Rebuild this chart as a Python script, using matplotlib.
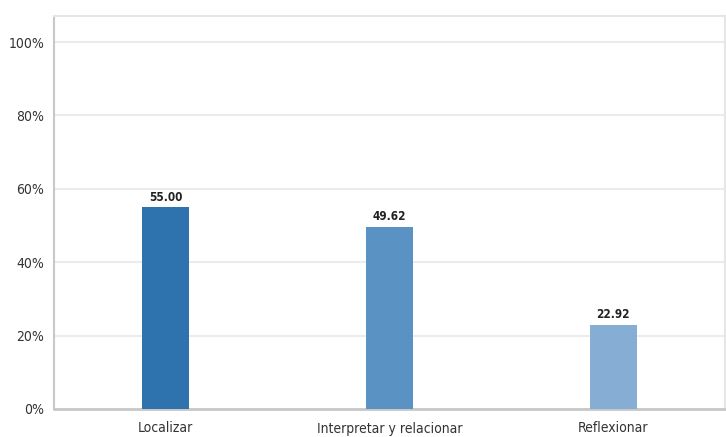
import matplotlib
matplotlib.use("Agg")
import matplotlib.pyplot as plt
from matplotlib.ticker import FuncFormatter

categories = ["Localizar", "Interpretar y relacionar", "Reflexionar"]
values = [55.00, 49.62, 22.92]
colors = ["#2e73ae", "#5a92c4", "#86add3"]
yticks = [0, 20, 40, 60, 80, 100]

plt.rcParams['font.family'] = ['DejaVu Sans']
plt.rcParams['font.stretch'] = 'condensed'

fig = plt.figure(figsize=(7.26, 4.37), dpi=100)
ax = fig.add_axes([54/726, 1 - 409/437, 671/726, 393/437])

x = range(len(categories))
bars = ax.bar(x, values, width=0.21, color=colors, zorder=3)

for b, v in zip(bars, values):
    ax.text(b.get_x() + b.get_width()/2, v + 1.0, f"{v:.2f}",
            ha='center', va='bottom', fontsize=8.5, color='#222222',
            fontweight='bold')

ax.set_xlim(-0.5, 2.5)
ax.set_ylim(0, 107.1)
ax.set_yticks(yticks)
ax.yaxis.set_major_formatter(FuncFormatter(lambda v, p: f"{v:.0f}%"))
ax.set_xticks(list(x))
ax.set_xticklabels(categories)
ax.tick_params(axis='both', length=0, labelsize=10, colors='#333333')
ax.tick_params(axis='y', pad=7)
ax.tick_params(axis='x', pad=9)
ax.grid(axis='y', color='#ececec', linewidth=1.5, zorder=0)

for side in ['top', 'right']:
    ax.spines[side].set_color('#e6e6e6')
    ax.spines[side].set_linewidth(1.5)
ax.spines['left'].set_color('#c8c8c8')
ax.spines['left'].set_linewidth(1.5)
ax.spines['bottom'].set_color('#c8c8c8')
ax.spines['bottom'].set_linewidth(2)

fig.savefig("out.png", dpi=100)
